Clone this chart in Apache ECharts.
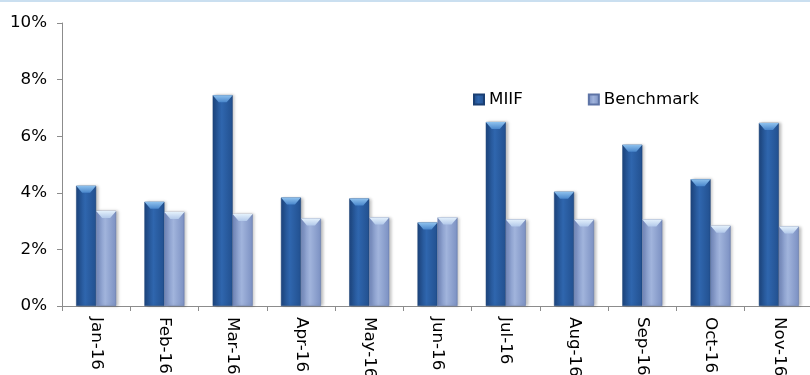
<!DOCTYPE html>
<html>
<head>
<meta charset="utf-8">
<script src="https://cdn.jsdelivr.net/npm/echarts@6/dist/echarts.min.js"></script>
<style>
  html, body { margin: 0; padding: 0; background: #fff; }
  #chart { width: 810px; height: 375px; box-sizing: border-box; border-top: 2px solid #cadff0; }
</style>
</head>
<body>
<div id="chart"></div>
<script>
// Monthly returns, in percent
const months = ['Jan-16', 'Feb-16', 'Mar-16', 'Apr-16', 'May-16', 'Jun-16', 'Jul-16', 'Aug-16', 'Sep-16', 'Oct-16', 'Nov-16'];
const miif = [4.25, 3.68, 7.45, 3.83, 3.80, 2.95, 6.50, 4.04, 5.70, 4.48, 6.47];
const benchmark = [3.36, 3.32, 3.25, 3.09, 3.13, 3.13, 3.06, 3.06, 3.06, 2.84, 2.81];
const yTicks = { min: 0, max: 10, step: 2 };

const FONT = 'DejaVu Sans';
const FONT_SIZE = 16.7;

function barGradient(edge, mid, edge2) {
  return new echarts.graphic.LinearGradient(0, 0, 1, 0, [
    { offset: 0, color: edge },
    { offset: 0.45, color: mid },
    { offset: 1, color: edge2 }
  ]);
}
const miifFill = barGradient('#1d4680', '#2f66ae', '#22508f');
const benchFill = barGradient('#7389bd', '#a1b4dc', '#7b90c2');

// Bevelled top cap drawn over each bar
const capPath = 'path://M0,0 L20,0 L14,7 L6,7 Z';

const chart = echarts.init(document.getElementById('chart'), null, { renderer: 'canvas' });
chart.setOption({
  animation: false,
  textStyle: { fontFamily: FONT },
  grid: { left: 62, right: -3, top: 21, bottom: 69, containLabel: false, outerBoundsMode: 'none' },
  legend: {
    left: 473,
    top: 89,
    padding: 0,
    itemWidth: 10,
    itemHeight: 10,
    itemGap: 65,
    textStyle: { fontFamily: FONT, fontSize: FONT_SIZE, color: '#000' },
    data: [
      { name: 'MIIF', icon: 'rect', itemStyle: { color: miifFill } },
      { name: 'Benchmark', icon: 'rect', itemStyle: { color: benchFill } }
    ]
  },
  xAxis: {
    type: 'category',
    data: months,
    boundaryGap: true,
    axisLine: { lineStyle: { color: '#8c8c8c', width: 1 } },
    axisTick: { show: true, length: 5, lineStyle: { color: '#8c8c8c' } },
    axisLabel: { rotate: -90, margin: 11, fontFamily: FONT, fontSize: FONT_SIZE, color: '#000', interval: 0 },
    splitLine: { show: false }
  },
  yAxis: {
    type: 'value',
    min: yTicks.min,
    max: yTicks.max,
    interval: yTicks.step,
    axisLine: { show: true, lineStyle: { color: '#8c8c8c', width: 1 } },
    axisTick: { show: true, length: 5, lineStyle: { color: '#8c8c8c' } },
    axisLabel: { formatter: '{value}%', margin: 15, fontFamily: FONT, fontSize: FONT_SIZE, color: '#000' },
    splitLine: { show: false }
  },
  series: [
    {
      name: 'MIIF',
      type: 'bar',
      data: miif,
      barWidth: 20,
      barGap: '0%',
      itemStyle: { color: miifFill, borderColor: '#1a3f73', borderWidth: 0.5, shadowColor: 'rgba(0,0,0,0.25)', shadowBlur: 3, shadowOffsetX: 2 },
      emphasis: { disabled: true }
    },
    {
      name: 'Benchmark',
      type: 'bar',
      data: benchmark,
      barWidth: 20,
      barGap: '0%',
      itemStyle: { color: benchFill, borderColor: '#5e74a6', borderWidth: 0.5, shadowColor: 'rgba(0,0,0,0.25)', shadowBlur: 3, shadowOffsetX: 2 },
      emphasis: { disabled: true }
    },
    {
      name: 'MIIF',
      type: 'pictorialBar',
      data: miif,
      barWidth: 20,
      barGap: '0%',
      symbol: capPath,
      symbolSize: [20, 7],
      symbolPosition: 'end',
      symbolOffset: [0, 0],
      itemStyle: { color: new echarts.graphic.LinearGradient(0, 0, 0, 1, [{ offset: 0, color: '#8fc2ee' }, { offset: 1, color: '#4a87cc' }]) },
      z: 3,
      silent: true
    },
    {
      name: 'Benchmark',
      type: 'pictorialBar',
      data: benchmark,
      barWidth: 20,
      barGap: '0%',
      symbol: capPath,
      symbolSize: [20, 7],
      symbolPosition: 'end',
      symbolOffset: [0, 0],
      itemStyle: { color: new echarts.graphic.LinearGradient(0, 0, 0, 1, [{ offset: 0, color: '#e4f1fc' }, { offset: 1, color: '#b3c9ea' }]) },
      z: 3,
      silent: true
    }
  ]
});
</script>
</body>
</html>
